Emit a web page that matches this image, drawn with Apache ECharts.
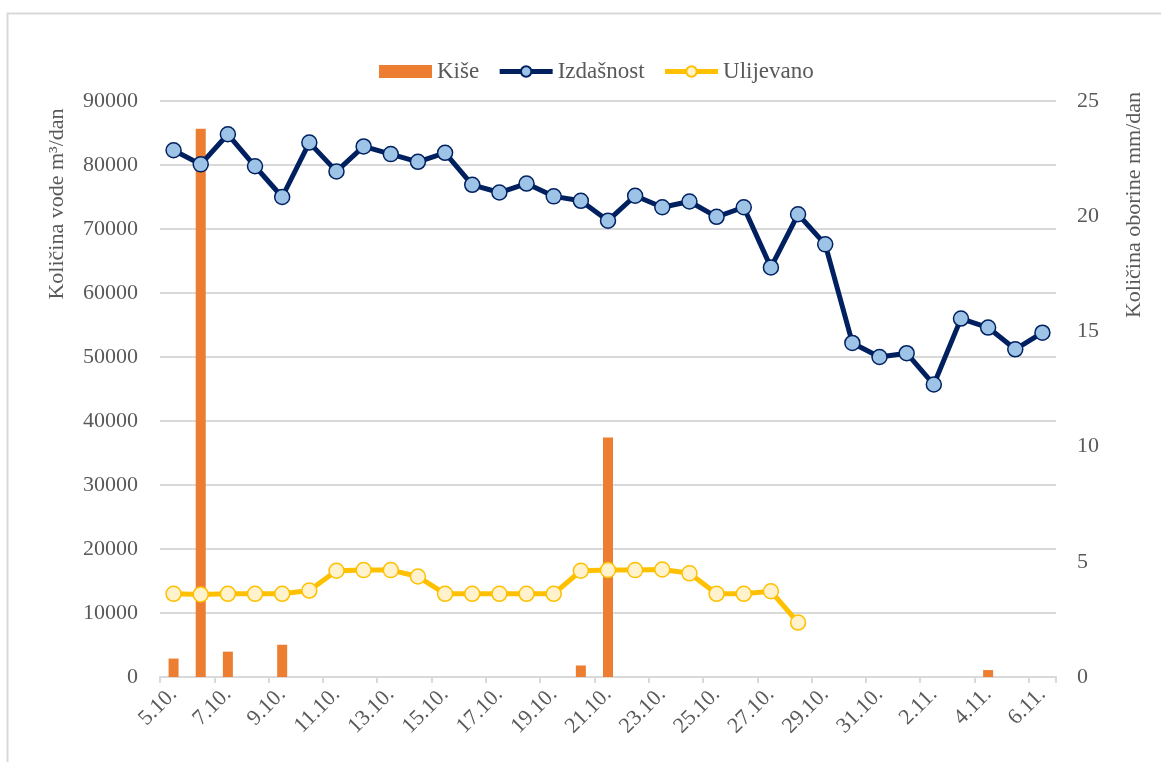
<!DOCTYPE html>
<html>
<head>
<meta charset="utf-8">
<script src="https://cdn.jsdelivr.net/npm/echarts@6/dist/echarts.min.js"></script>
<style>
html,body{margin:0;padding:0;background:#fff;}
#chart{width:1161px;height:762px;}
</style>
</head>
<body>
<div id="chart"></div>
<script>
const categories = ['5.10.','6.10.','7.10.','8.10.','9.10.','10.10.','11.10.','12.10.','13.10.','14.10.','15.10.','16.10.','17.10.','18.10.','19.10.','20.10.','21.10.','22.10.','23.10.','24.10.','25.10.','26.10.','27.10.','28.10.','29.10.','30.10.','31.10.','1.11.','2.11.','3.11.','4.11.','5.11.','6.11.'];
const kise = [0.8, 23.8, 1.1, 0, 1.4, 0, 0, 0, 0, 0, 0, 0, 0, 0, 0, 0.5, 10.4, 0, 0, 0, 0, 0, 0, 0, 0, 0, 0, 0, 0, 0, 0.3, 0, 0];
const izdasnost = [82300, 80100, 84800, 79800, 75000, 83500, 79000, 82900, 81700, 80500, 81900, 76900, 75700, 77100, 75100, 74400, 71300, 75200, 73400, 74300, 71900, 73400, 64000, 72300, 67600, 52200, 50000, 50600, 45700, 56000, 54600, 51200, 53800];
const ulijevano = [13000, 12900, 13000, 13000, 13000, 13500, 16600, 16700, 16700, 15700, 13000, 13000, 13000, 13000, 13000, 16600, 16700, 16700, 16800, 16200, 13000, 13000, 13400, 8500, null, null, null, null, null, null, null, null, null];
const leftTicks = {min: 0, max: 90000, interval: 10000};
const rightTicks = {min: 0, max: 25, interval: 5};

const FONT = '"Liberation Serif", "Times New Roman", serif';
const GREY = '#595959';
const LINE = '#d9d9d9';

const chart = echarts.init(document.getElementById('chart'), null, {renderer: 'canvas'});
chart.setOption({
  animation: false,
  backgroundColor: '#fff',
  textStyle: {fontFamily: FONT},
  grid: {left: 160, right: 105, top: 101, bottom: 85, containLabel: false},
  legend: {
    top: 55, left: 374,
    itemWidth: 53, itemHeight: 13, itemGap: 18,
    textStyle: {fontFamily: FONT, fontSize: 23, color: GREY},
    data: [
      {name: 'Kiše', icon: 'rect', itemStyle: {color: '#ed7d31'}},
      {name: 'Izdašnost', lineStyle: {width: 5, color: '#002060'}},
      {name: 'Ulijevano', lineStyle: {width: 5, color: '#ffc000'}}
    ]
  },
  graphic: [
    {type: 'rect', silent: true, shape: {x: 7.5, y: 13.5, width: 1300, height: 900},
     style: {fill: 'none', stroke: LINE, lineWidth: 2}},
    {type: 'text', x: 57, y: 204, rotation: Math.PI / 2,
     style: {text: 'Količina vode m³/dan', fontFamily: FONT, fontSize: 22, fill: GREY, align: 'center', verticalAlign: 'middle'}},
    {type: 'text', x: 1134, y: 205, rotation: Math.PI / 2,
     style: {text: 'Količina oborine mm/dan', fontFamily: FONT, fontSize: 22, fill: GREY, align: 'center', verticalAlign: 'middle'}}
  ],
  xAxis: {
    type: 'category',
    data: categories,
    boundaryGap: true,
    axisLine: {lineStyle: {color: LINE, width: 2}},
    axisTick: {show: true, interval: 1, length: 6, lineStyle: {color: LINE, width: 2}},
    axisLabel: {interval: 1, rotate: 45, margin: 14, fontFamily: FONT, fontSize: 22, color: GREY},
    splitLine: {show: false}
  },
  yAxis: [
    {
      type: 'value', min: leftTicks.min, max: leftTicks.max, interval: leftTicks.interval,
      axisLine: {show: false}, axisTick: {show: false},
      axisLabel: {margin: 22, fontFamily: FONT, fontSize: 22, color: GREY, formatter: v => String(v)},
      splitLine: {lineStyle: {color: LINE, width: 2}}
    },
    {
      type: 'value', min: rightTicks.min, max: rightTicks.max, interval: rightTicks.interval,
      position: 'right',
      axisLine: {show: false}, axisTick: {show: false},
      axisLabel: {margin: 21, fontFamily: FONT, fontSize: 22, color: GREY},
      splitLine: {show: false}
    }
  ],
  series: [
    {
      name: 'Kiše', type: 'bar', yAxisIndex: 1, data: kise,
      barWidth: 10, itemStyle: {color: '#ed7d31'}, z: 1
    },
    {
      name: 'Izdašnost', type: 'line', yAxisIndex: 0, data: izdasnost,
      symbol: 'circle', symbolSize: 15, showAllSymbol: true,
      lineStyle: {color: '#002060', width: 5},
      itemStyle: {color: '#9dc3e6', borderColor: '#002060', borderWidth: 1.5},
      z: 3
    },
    {
      name: 'Ulijevano', type: 'line', yAxisIndex: 0, data: ulijevano,
      symbol: 'circle', symbolSize: 15, showAllSymbol: true,
      lineStyle: {color: '#ffc000', width: 5},
      itemStyle: {color: '#fff2cc', borderColor: '#ffc000', borderWidth: 1.5},
      z: 2
    }
  ]
});
</script>
</body>
</html>
